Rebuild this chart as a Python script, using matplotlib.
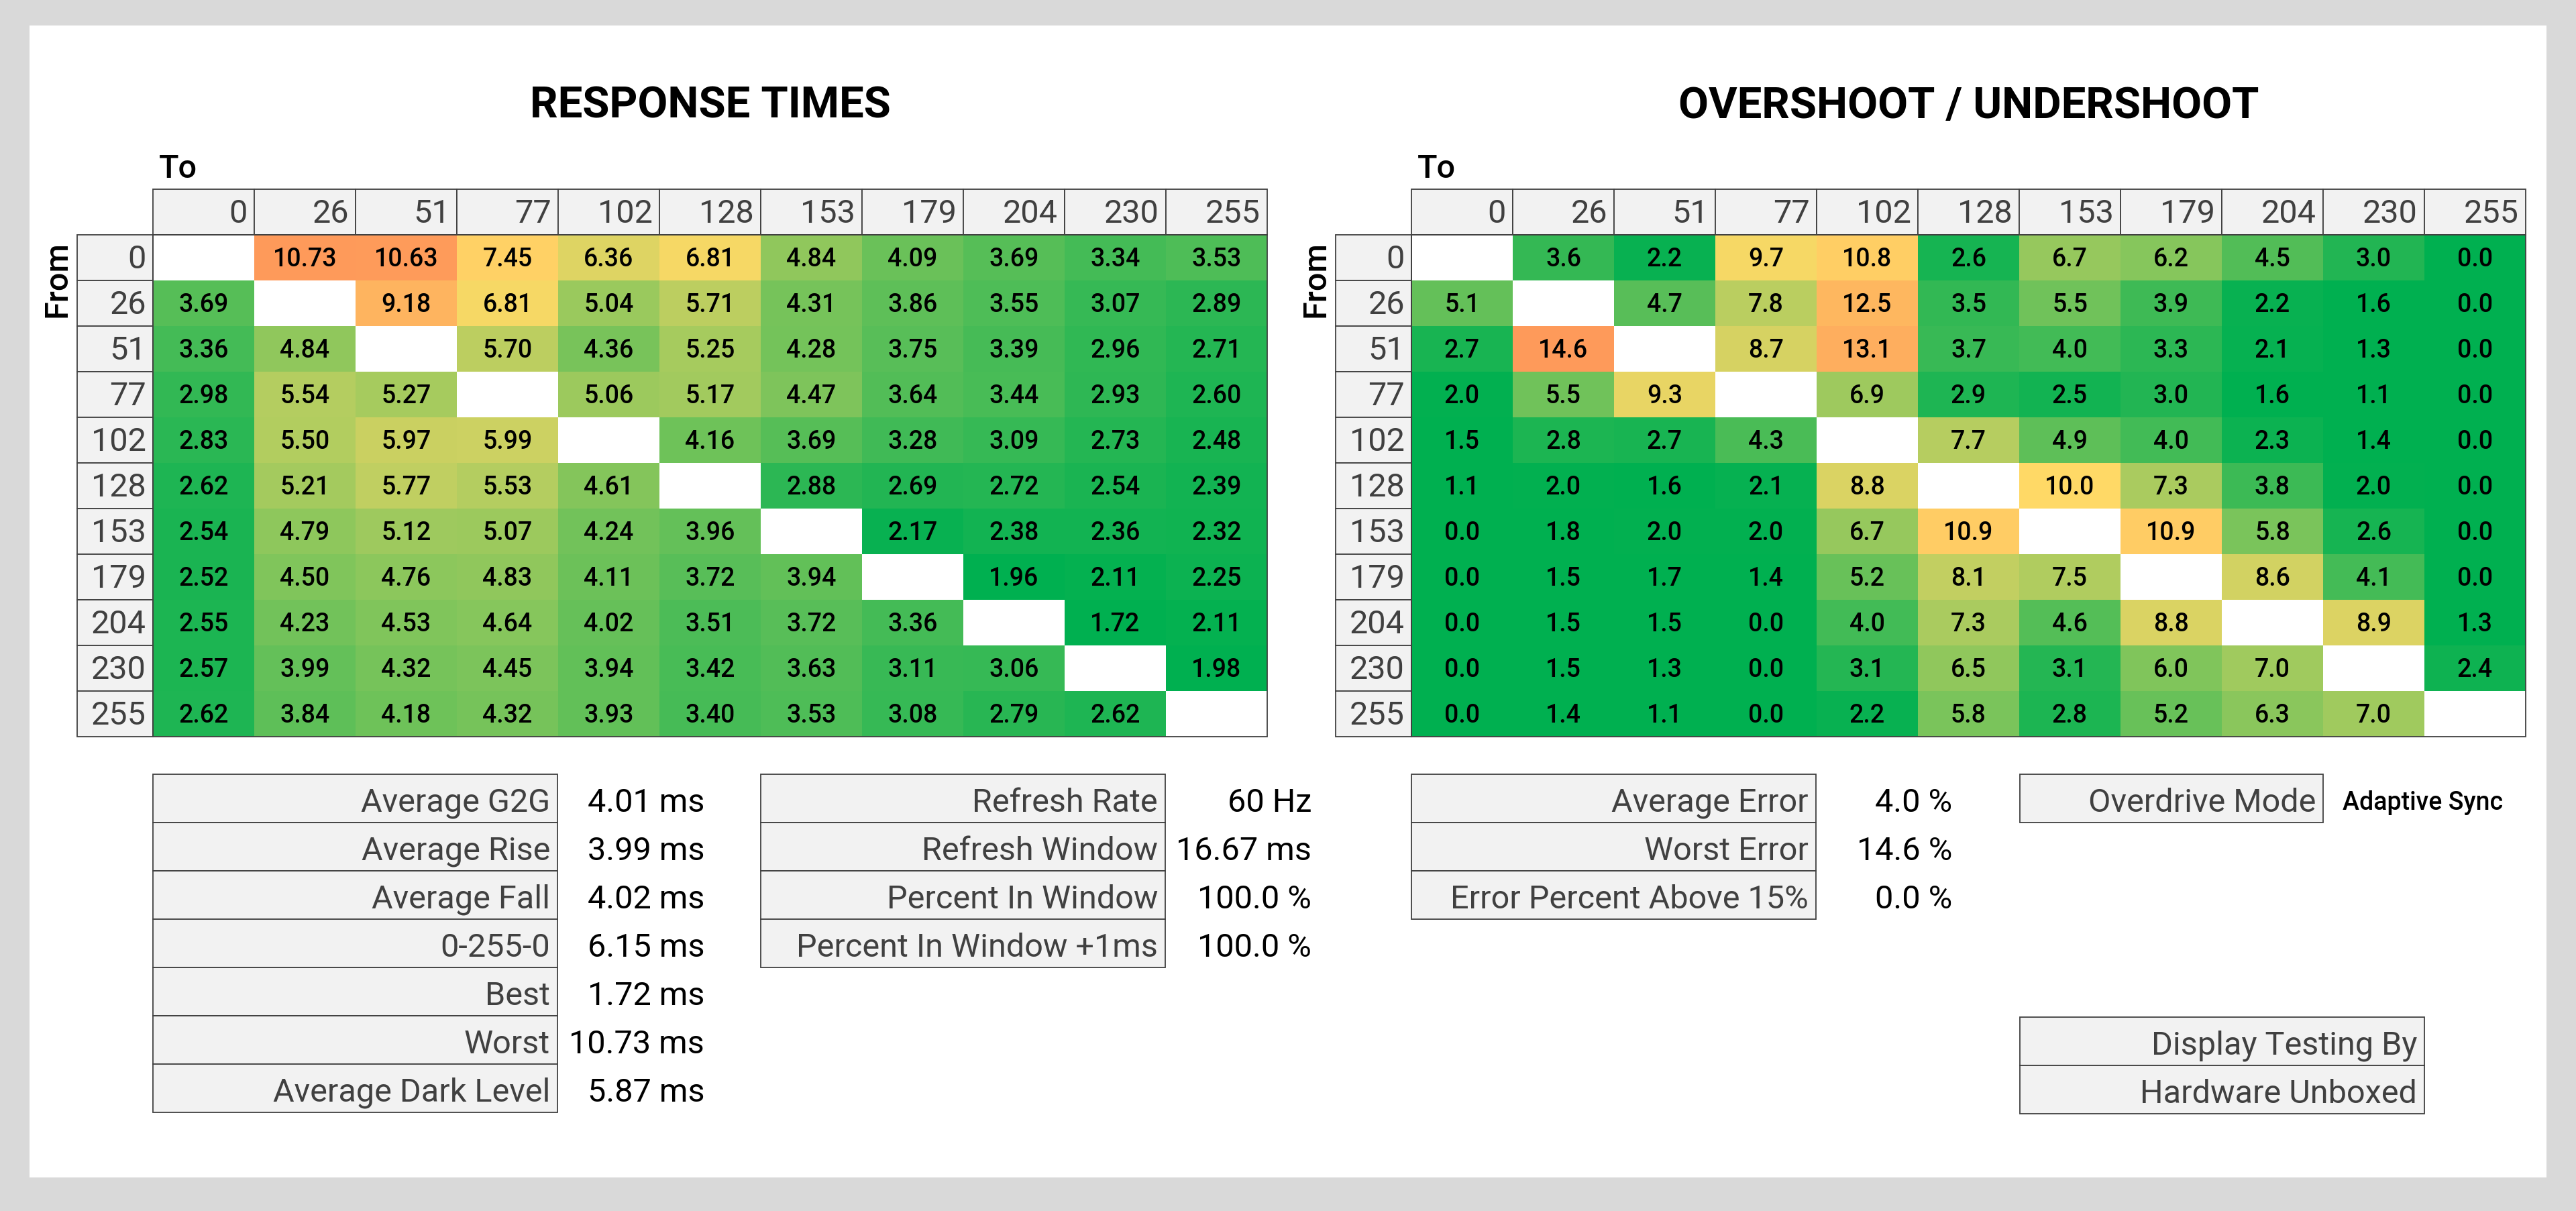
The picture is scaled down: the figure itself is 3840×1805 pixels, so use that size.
import numpy as np
import matplotlib
matplotlib.use('Agg')
import matplotlib.pyplot as plt
from matplotlib.patches import Rectangle
from matplotlib.colors import LinearSegmentedColormap, TwoSlopeNorm

plt.rcParams['font.family'] = ['Roboto', 'DejaVu Sans']

nan = np.nan
LEVELS = ['0', '26', '51', '77', '102', '128', '153', '179', '204', '230', '255']

RESPONSE = [
    [nan, 10.73, 10.63, 7.45, 6.36, 6.81, 4.84, 4.09, 3.69, 3.34, 3.53],
    [3.69, nan, 9.18, 6.81, 5.04, 5.71, 4.31, 3.86, 3.55, 3.07, 2.89],
    [3.36, 4.84, nan, 5.70, 4.36, 5.25, 4.28, 3.75, 3.39, 2.96, 2.71],
    [2.98, 5.54, 5.27, nan, 5.06, 5.17, 4.47, 3.64, 3.44, 2.93, 2.60],
    [2.83, 5.50, 5.97, 5.99, nan, 4.16, 3.69, 3.28, 3.09, 2.73, 2.48],
    [2.62, 5.21, 5.77, 5.53, 4.61, nan, 2.88, 2.69, 2.72, 2.54, 2.39],
    [2.54, 4.79, 5.12, 5.07, 4.24, 3.96, nan, 2.17, 2.38, 2.36, 2.32],
    [2.52, 4.50, 4.76, 4.83, 4.11, 3.72, 3.94, nan, 1.96, 2.11, 2.25],
    [2.55, 4.23, 4.53, 4.64, 4.02, 3.51, 3.72, 3.36, nan, 1.72, 2.11],
    [2.57, 3.99, 4.32, 4.45, 3.94, 3.42, 3.63, 3.11, 3.06, nan, 1.98],
    [2.62, 3.84, 4.18, 4.32, 3.93, 3.40, 3.53, 3.08, 2.79, 2.62, nan],
]

OVERSHOOT = [
    [nan, 3.6, 2.2, 9.7, 10.8, 2.6, 6.7, 6.2, 4.5, 3.0, 0.0],
    [5.1, nan, 4.7, 7.8, 12.5, 3.5, 5.5, 3.9, 2.2, 1.6, 0.0],
    [2.7, 14.6, nan, 8.7, 13.1, 3.7, 4.0, 3.3, 2.1, 1.3, 0.0],
    [2.0, 5.5, 9.3, nan, 6.9, 2.9, 2.5, 3.0, 1.6, 1.1, 0.0],
    [1.5, 2.8, 2.7, 4.3, nan, 7.7, 4.9, 4.0, 2.3, 1.4, 0.0],
    [1.1, 2.0, 1.6, 2.1, 8.8, nan, 10.0, 7.3, 3.8, 2.0, 0.0],
    [0.0, 1.8, 2.0, 2.0, 6.7, 10.9, nan, 10.9, 5.8, 2.6, 0.0],
    [0.0, 1.5, 1.7, 1.4, 5.2, 8.1, 7.5, nan, 8.6, 4.1, 0.0],
    [0.0, 1.5, 1.5, 0.0, 4.0, 7.3, 4.6, 8.8, nan, 8.9, 1.3],
    [0.0, 1.5, 1.3, 0.0, 3.1, 6.5, 3.1, 6.0, 7.0, nan, 2.4],
    [0.0, 1.4, 1.1, 0.0, 2.2, 5.8, 2.8, 5.2, 6.3, 7.0, nan],
]

G2G_LABELS = ['Average G2G', 'Average Rise', 'Average Fall', '0-255-0',
              'Best', 'Worst', 'Average Dark Level']
G2G_VALUES = ['4.01 ms', '3.99 ms', '4.02 ms', '6.15 ms', '1.72 ms',
              '10.73 ms', '5.87 ms']
REFRESH_LABELS = ['Refresh Rate', 'Refresh Window', 'Percent In Window',
                  'Percent In Window +1ms']
REFRESH_VALUES = ['60 Hz', '16.67 ms', '100.0 %', '100.0 %']
ERROR_LABELS = ['Average Error', 'Worst Error', 'Error Percent Above 15%']
ERROR_VALUES = ['4.0 %', '14.6 %', '0.0 %']
MODE_LABELS = ['Overdrive Mode']
MODE_VALUES = ['Adaptive Sync']
CREDIT_LABELS = ['Display Testing By', 'Hardware Unboxed']

W, H = 3840, 1806
CELL_W, ROW_W, ROW_H = 151, 113, 68
GREY_TXT = '#404040'
EDGE = '#404040'

fig = plt.figure(figsize=(W / 100, H / 100), dpi=100, facecolor='#D9D9D9')
bg = fig.add_axes([0, 0, 1, 1])
bg.set_xlim(0, W)
bg.set_ylim(H, 0)
bg.axis('off')
bg.add_patch(Rectangle((44, 39), 3752, 1717, fc='white', ec='none'))

cmap = LinearSegmentedColormap.from_list('gyo', ['#00B050', '#FFD966', '#FE9A5A'])
cmap.set_bad('white')


def heatmap(x0, y0, values, title, scale, fmt):
    width = ROW_W + 11 * CELL_W
    height = 12 * ROW_H
    ax = fig.add_axes([x0 / W, 1 - (y0 + height) / H, width / W, height / H])
    rw = ROW_W / CELL_W
    ax.set_xlim(-rw, 11)
    ax.set_ylim(11, -1)
    ax.axis('off')

    data = np.ma.masked_invalid(np.array(values, dtype=float))
    norm = TwoSlopeNorm(vmin=scale[0], vcenter=scale[1], vmax=scale[2])
    ax.pcolormesh(np.arange(12), np.arange(12), data, cmap=cmap, norm=norm,
                  edgecolors='none', antialiased=False)
    for i in range(11):
        for j in range(11):
            v = data[i, j]
            if v is np.ma.masked:
                continue
            ax.text(j + 0.5, i + 0.52, fmt.format(v), ha='center', va='center',
                    fontsize=27, fontweight='medium', color='black')

    pad = 10 / CELL_W
    for j, lab in enumerate(LEVELS):
        ax.add_patch(Rectangle((j, -1), 1, 1, fc='#F2F2F2', ec=EDGE, lw=1.3,
                               clip_on=False))
        ax.text(j + 1 - pad, -0.47, lab, ha='right', va='center', fontsize=35,
                color=GREY_TXT)
    for i, lab in enumerate(LEVELS):
        ax.add_patch(Rectangle((-rw, i), rw, 1, fc='#F2F2F2', ec=EDGE, lw=1.3,
                               clip_on=False))
        ax.text(-pad, i + 0.53, lab, ha='right', va='center', fontsize=35,
                color=GREY_TXT)
    ax.add_patch(Rectangle((0, 0), 11, 11, fill=False, ec=EDGE, lw=1.3,
                           clip_on=False))

    cx = x0 + ROW_W + 11 * CELL_W / 2
    bg.text(cx, 158, title, ha='center', va='center', fontsize=47,
            fontweight='bold', color='black')
    bg.text(x0 + 122, 252, 'To', ha='left', va='center', fontsize=35,
            fontweight='medium', color='black')
    bg.text(x0 - 29, 416, 'From', ha='center', va='center', rotation=90,
            fontsize=35, fontweight='medium', color='black')


heatmap(115, 283, RESPONSE, 'RESPONSE TIMES', (2.0, 7.0, 10.73), '{:.2f}')
heatmap(1991, 283, OVERSHOOT, 'OVERSHOOT / UNDERSHOOT', (1.9, 10.0, 14.6), '{:.1f}')


def stat_block(x0, x1, y0, labels, values, vx, ha='right', vsize=35,
               vweight='normal', row_h=72):
    for k, lab in enumerate(labels):
        y = y0 + k * row_h
        bg.add_patch(Rectangle((x0, y), x1 - x0, row_h, fc='#F2F2F2', ec=EDGE,
                               lw=1.3))
        bg.text(x1 - 11, y + row_h / 2 + 6, lab, ha='right', va='center',
                fontsize=35, color=GREY_TXT)
        if k < len(values):
            bg.text(vx, y + row_h / 2 + 6, values[k], ha=ha, va='center',
                    fontsize=vsize, fontweight=vweight, color='black')


stat_block(228, 831, 1155, G2G_LABELS, G2G_VALUES, 1050)
stat_block(1134, 1737, 1155, REFRESH_LABELS, REFRESH_VALUES, 1955)
stat_block(2104, 2707, 1155, ERROR_LABELS, ERROR_VALUES, 2910)
stat_block(3011, 3463, 1155, MODE_LABELS, MODE_VALUES, 3492, ha='left',
           vsize=27, vweight='medium')
stat_block(3011, 3614, 1517, CREDIT_LABELS, [], 0)

fig.savefig('out.png', dpi=100, facecolor=fig.get_facecolor())
